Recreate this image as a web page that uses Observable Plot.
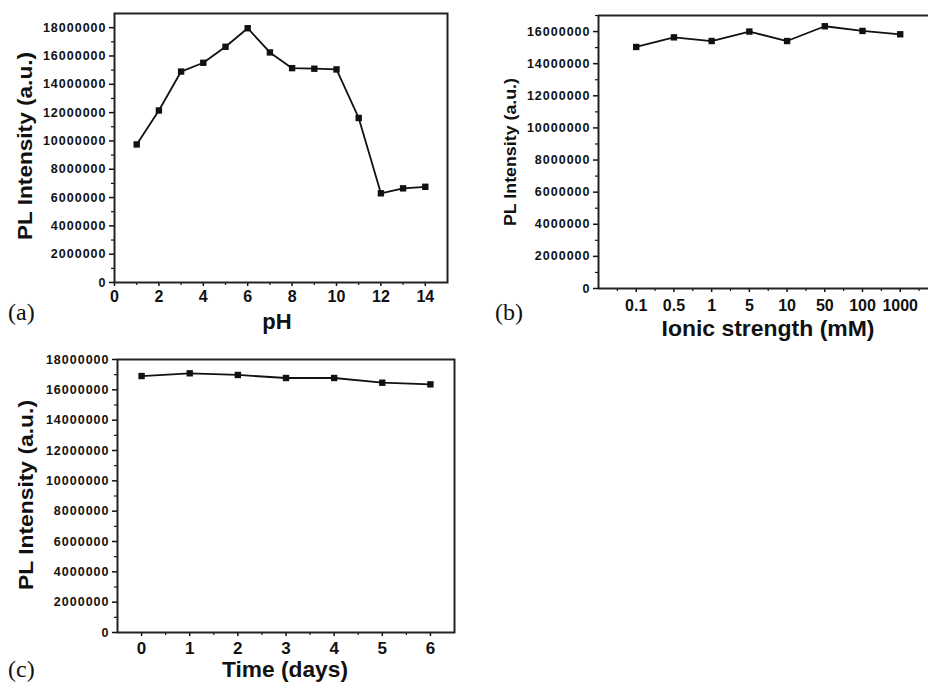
<!DOCTYPE html>
<html>
<head>
<meta charset="utf-8">
<script src="https://cdn.jsdelivr.net/npm/d3@7"></script>
<script src="https://cdn.jsdelivr.net/npm/@observablehq/plot@0.6"></script>
<style>
  html, body { margin: 0; padding: 0; background: #fff; }
  #wrap { position: relative; width: 928px; height: 683px; overflow: hidden; background: #fff; }
  #wrap svg text { font-family: "Liberation Sans", Arial, sans-serif !important; font-weight: bold; }
  #wrap svg text.tag { font-family: "Liberation Serif", "Times New Roman", serif !important; font-weight: normal; }
  g[aria-label="y-axis tick label"] text { letter-spacing: 1px; }
  .lbl { fill: #111; }
  .tag { fill: #111; }
</style>
</head>
<body>
<div id="wrap"></div>
<script>
// ---- data ----
const phValues = [1, 2, 3, 4, 5, 6, 7, 8, 9, 10, 11, 12, 13, 14];
const phIntensity = [9750000, 12150000, 14900000, 15520000, 16650000, 17960000, 16250000, 15140000, 15100000, 15050000, 11620000, 6300000, 6650000, 6760000];

const ionicLabels = ["0.1", "0.5", "1", "5", "10", "50", "100", "1000"];
const ionicIntensity = [15040000, 15640000, 15410000, 16000000, 15410000, 16330000, 16040000, 15830000];

const timeDays = [0, 1, 2, 3, 4, 5, 6];
const timeIntensity = [16910000, 17090000, 16980000, 16780000, 16780000, 16470000, 16360000];

const yMajorA = [0, 2e6, 4e6, 6e6, 8e6, 10e6, 12e6, 14e6, 16e6, 18e6];
const yMajorB = [0, 2e6, 4e6, 6e6, 8e6, 10e6, 12e6, 14e6, 16e6];
const yMinorA = [1e6, 3e6, 5e6, 7e6, 9e6, 11e6, 13e6, 15e6, 17e6];
const xMajorA = [0, 2, 4, 6, 8, 10, 12, 14];
const xMinorA = [1, 3, 5, 7, 9, 11, 13];
const xMajorB = [1, 2, 3, 4, 5, 6, 7, 8];
const xMinorB = [0.5, 1.5, 2.5, 3.5, 4.5, 5.5, 6.5, 7.5, 8.5];
const xMajorC = [0, 1, 2, 3, 4, 5, 6];
const xMinorC = [0.5, 1.5, 2.5, 3.5, 4.5, 5.5];

const yLabel = "PL Intensity (a.u.)";

// ---- helpers ----
const baseStyle = {fontFamily: "'Liberation Sans', Arial, sans-serif", fontWeight: "bold", color: "#111", background: "transparent", overflow: "visible"};
const fmt = d => String(d);
const blank = () => "";

function seriesMarks(xs, ys) {
  const rows = xs.map((x, i) => ({x, y: ys[i]}));
  return [
    Plot.line(rows, {x: "x", y: "y", stroke: "#111", strokeWidth: 1.8}),
    Plot.dot(rows, {x: "x", y: "y", symbol: "square", r: 3.6, fill: "#111", stroke: "none"})
  ];
}

function place(el, left, top) {
  el.style.position = "absolute";
  el.style.left = left + "px";
  el.style.top = top + "px";
  document.getElementById("wrap").appendChild(el);
}

// ---- panel (a) ----
const pa = Plot.plot({
  width: 470, height: 340,
  marginLeft: 114, marginRight: 23, marginTop: 13, marginBottom: 58,
  style: baseStyle,
  x: {domain: [0, 15]},
  y: {domain: [0, 19e6]},
  marks: [
    Plot.axisY({ticks: yMajorA, tickFormat: fmt, tickSize: 5, tickPadding: 3, fontSize: 12.5, label: null, strokeWidth: 1.5}),
    Plot.axisY({ticks: yMinorA, tickFormat: blank, tickSize: 3, label: null, strokeWidth: 1.2}),
    Plot.axisX({ticks: xMajorA, tickFormat: fmt, tickSize: 4, tickPadding: 4, fontSize: 16, label: null, strokeWidth: 1.5}),
    Plot.axisX({ticks: xMinorA, tickFormat: blank, tickSize: 3, label: null, strokeWidth: 1.2}),
    Plot.frame({stroke: "#222", strokeWidth: 2}),
    ...seriesMarks(phValues, phIntensity)
  ]
});
place(pa, 0, 0);

// ---- panel (b) ----
const pb = Plot.plot({
  width: 448, height: 350,
  marginLeft: 118, marginRight: 0, marginTop: 15, marginBottom: 62,
  style: baseStyle,
  x: {domain: [0, 8.75]},
  y: {domain: [0, 17e6]},
  marks: [
    Plot.axisY({ticks: yMajorB, tickFormat: fmt, tickSize: 5, tickPadding: 3, fontSize: 12.5, label: null, strokeWidth: 1.5}),
    Plot.axisY({ticks: yMinorA, tickFormat: blank, tickSize: 3, label: null, strokeWidth: 1.2}),
    Plot.axisX({ticks: xMajorB, tickFormat: i => ionicLabels[i - 1], tickSize: 4, tickPadding: 7, fontSize: 16, label: null, strokeWidth: 1.5}),
    Plot.axisX({ticks: xMinorB, tickFormat: blank, tickSize: 3, label: null, strokeWidth: 1.2}),
    Plot.ruleY([0], {stroke: "#222", strokeWidth: 2}),
    Plot.ruleY([17e6], {stroke: "#222", strokeWidth: 2}),
    Plot.ruleX([0], {stroke: "#222", strokeWidth: 2}),
    ...seriesMarks(ionicLabels.map((_, i) => i + 1), ionicIntensity)
  ]
});
place(pb, 480, 0);

// ---- panel (c) ----
const pc = Plot.plot({
  width: 470, height: 343,
  marginLeft: 117, marginRight: 16, marginTop: 19, marginBottom: 51,
  style: baseStyle,
  x: {domain: [-0.5, 6.5]},
  y: {domain: [0, 18e6]},
  marks: [
    Plot.axisY({ticks: yMajorA, tickFormat: fmt, tickSize: 5, tickPadding: 3, fontSize: 12.5, label: null, strokeWidth: 1.5}),
    Plot.axisY({ticks: yMinorA, tickFormat: blank, tickSize: 3, label: null, strokeWidth: 1.2}),
    Plot.axisX({ticks: xMajorC, tickFormat: fmt, tickSize: 4, tickPadding: 5, fontSize: 17, label: null, strokeWidth: 1.5}),
    Plot.axisX({ticks: xMinorC, tickFormat: blank, tickSize: 3, label: null, strokeWidth: 1.2}),
    Plot.frame({stroke: "#222", strokeWidth: 2}),
    ...seriesMarks(timeDays, timeIntensity)
  ]
});
place(pc, 0, 340);

// ---- overlay text (axis titles and panel tags) ----
const ns = "http://www.w3.org/2000/svg";
const ov = document.createElementNS(ns, "svg");
ov.setAttribute("width", 928); ov.setAttribute("height", 683);
ov.style.position = "absolute"; ov.style.left = "0px"; ov.style.top = "0px"; ov.style.pointerEvents = "none";
function txt(s, x, y, opts) {
  const t = document.createElementNS(ns, "text");
  t.textContent = s;
  t.setAttribute("class", opts.cls || "lbl");
  t.setAttribute("font-size", opts.size);
  t.setAttribute("text-anchor", opts.anchor || "middle");
  if (opts.rot) {
    t.setAttribute("transform", `translate(${x},${y}) rotate(-90)`);
    t.setAttribute("dominant-baseline", "central");
  } else {
    t.setAttribute("x", x); t.setAttribute("y", y);
  }
  if (opts.len) { t.setAttribute("textLength", opts.len); t.setAttribute("lengthAdjust", "spacingAndGlyphs"); }
  ov.appendChild(t);
}
txt(yLabel, 24, 146, {size: 21, rot: true, len: 188});
txt("pH", 277, 329, {size: 22});
txt(yLabel, 510, 152, {size: 17, rot: true, len: 148});
txt("Ionic strength (mM)", 768, 336, {size: 22, len: 213});
txt(yLabel, 25, 495, {size: 21, rot: true, len: 190});
txt("Time (days)", 285, 677, {size: 22, len: 126});
txt("(a)", 8, 320, {size: 24, cls: "tag", anchor: "start"});
txt("(b)", 495, 320, {size: 24, cls: "tag", anchor: "start"});
txt("(c)", 8, 677, {size: 24, cls: "tag", anchor: "start"});
document.getElementById("wrap").appendChild(ov);
</script>
</body>
</html>
